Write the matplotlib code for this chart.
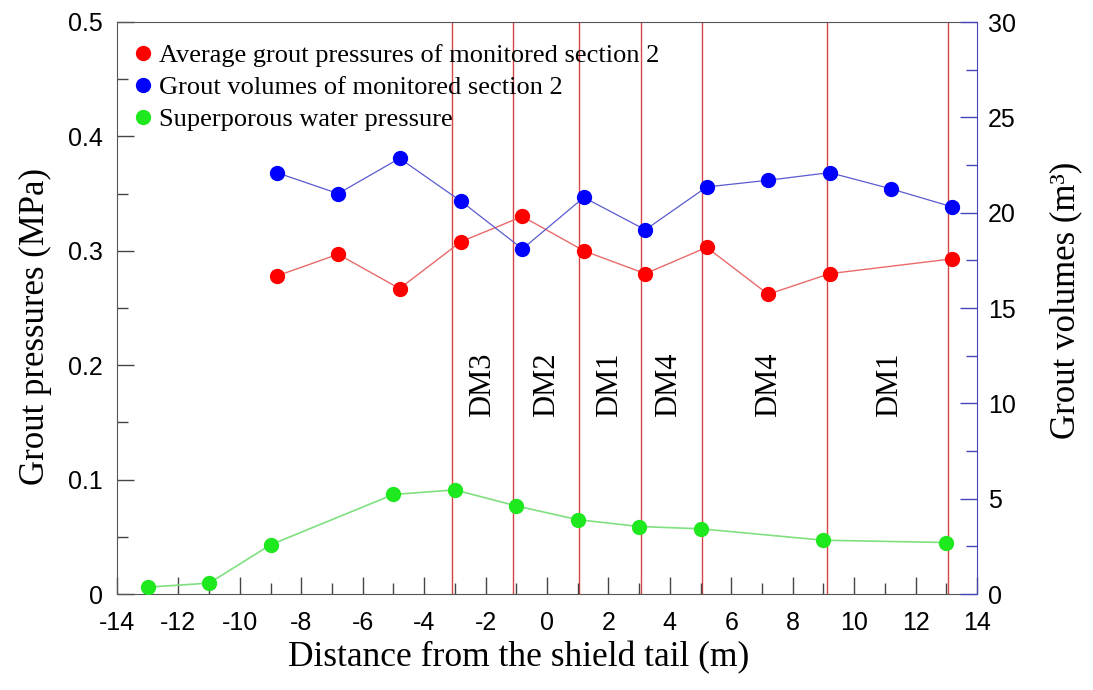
import matplotlib
matplotlib.use("Agg")
from matplotlib import pyplot as plt
from matplotlib.lines import Line2D
from matplotlib.ticker import MultipleLocator

plt.rcParams["axes.unicode_minus"] = False

# distance from the shield tail (m)
x_pressure = [-8.8, -6.8, -4.8, -2.8, -0.8, 1.2, 3.2, 5.2, 7.2, 9.2, 13.2]
grout_pressure = [0.278, 0.297, 0.267, 0.308, 0.330, 0.300, 0.280, 0.303, 0.262, 0.280, 0.293]

x_volume = [-8.8, -6.8, -4.8, -2.8, -0.8, 1.2, 3.2, 5.2, 7.2, 9.2, 11.2, 13.2]
grout_volume = [22.1, 21.0, 22.85, 20.6, 18.1, 20.8, 19.1, 21.35, 21.7, 22.1, 21.25, 20.3]

x_water = [-13, -11, -9, -5, -3, -1, 1, 3, 5, 9, 13]
water_pressure = [0.006, 0.0095, 0.043, 0.087, 0.091, 0.077, 0.065, 0.059, 0.057, 0.047, 0.045]

boundaries = [-3.1, -1.1, 1.05, 3.05, 5.05, 9.1, 13.05]
zone_labels = ["DM3", "DM2", "DM1", "DM4", "DM4", "DM1"]
zone_x = [-2.1, 0.0, 2.05, 3.95, 7.2, 11.15]
zone_y = 0.183

legend_labels = [
    "Average grout pressures of monitored section 2",
    "Grout volumes of monitored section 2",
    "Superporous water pressure",
]

SANS = "Liberation Sans"
SERIF = "Liberation Serif"

fig = plt.figure(figsize=(10.93, 6.9), dpi=100)
ax = fig.add_axes([117 / 1093, 96 / 690, 860 / 1093, 572 / 690])
ax2 = ax.twinx()

for b in boundaries:
    ax.axvline(b, color="#d84444", lw=1.0, zorder=1)

ax.plot(x_pressure, grout_pressure, color="#e86a6a", lw=1.0, marker="o",
        ms=10, mfc="#ff0000", mec="#ff0000", zorder=3)
ax.plot(x_water, water_pressure, color="#7fe07f", lw=1.2, marker="o",
        ms=10, mfc="#1ee81e", mec="#1ee81e", zorder=3)
ax2.plot(x_volume, grout_volume, color="#5a5ad0", lw=0.9, marker="o",
         ms=10, mfc="#0000ff", mec="#0000ff", zorder=3)

for lab, zx in zip(zone_labels, zone_x):
    ax.text(zx, zone_y, lab, rotation=90, ha="center", va="center",
            family=SERIF, fontsize=22)

ax.set_xlim(-14, 14)
ax.set_ylim(0, 0.5)
ax2.set_ylim(0, 30)

ax.xaxis.set_major_locator(MultipleLocator(2))
ax.xaxis.set_minor_locator(MultipleLocator(1))
ax.yaxis.set_major_locator(MultipleLocator(0.1))
ax.yaxis.set_minor_locator(MultipleLocator(0.05))
ax2.yaxis.set_major_locator(MultipleLocator(5))
ax2.yaxis.set_minor_locator(MultipleLocator(2.5))

ax.tick_params(which="both", direction="in", color="#444444", width=1,
               labelsize=18, top=False, right=False)
ax.tick_params(which="major", length=12)
ax.tick_params(which="minor", length=8)
ax.tick_params(axis="x", pad=12)
ax.tick_params(axis="y", pad=10)
ax2.tick_params(which="both", direction="in", color="#4444bb", width=1,
                labelsize=18, pad=8)
ax2.tick_params(which="major", length=12)
ax2.tick_params(which="minor", length=8)
ax.yaxis.set_major_formatter(lambda v, p: "0" if v == 0 else f"{v:.1f}")

for t in ax.get_xticklabels() + ax.get_yticklabels() + ax2.get_yticklabels():
    t.set_family(SANS)

for s in ["left", "bottom", "top"]:
    ax.spines[s].set_color("#555555")
    ax2.spines[s].set_visible(False)
ax.spines["right"].set_visible(False)
ax2.spines["right"].set_color("#4444bb")

ax.set_xlabel("Distance from the shield tail (m)", family=SERIF, fontsize=25.5)
ax.set_ylabel("Grout pressures (MPa)", family=SERIF, fontsize=25)
ax2.set_ylabel("Grout volumes (m³)", family=SERIF, fontsize=25)
ax.xaxis.set_label_coords(0.467, -0.083)
ax.yaxis.set_label_coords(-0.076, 0.467)
ax2.yaxis.set_label_coords(1.084, 0.514)

handles = [
    Line2D([], [], ls="none", marker="o", ms=10, color=c)
    for c in ["#ff0000", "#0000ff", "#1ee81e"]
]
ax2.legend(handles, legend_labels, loc="upper left",
           bbox_to_anchor=(0.0, 0.995), frameon=False, handlelength=0.6,
           handletextpad=0.3, labelspacing=0.33, borderaxespad=0.3,
           prop={"family": SERIF, "size": 19})

fig.savefig("out.png", dpi=100)
